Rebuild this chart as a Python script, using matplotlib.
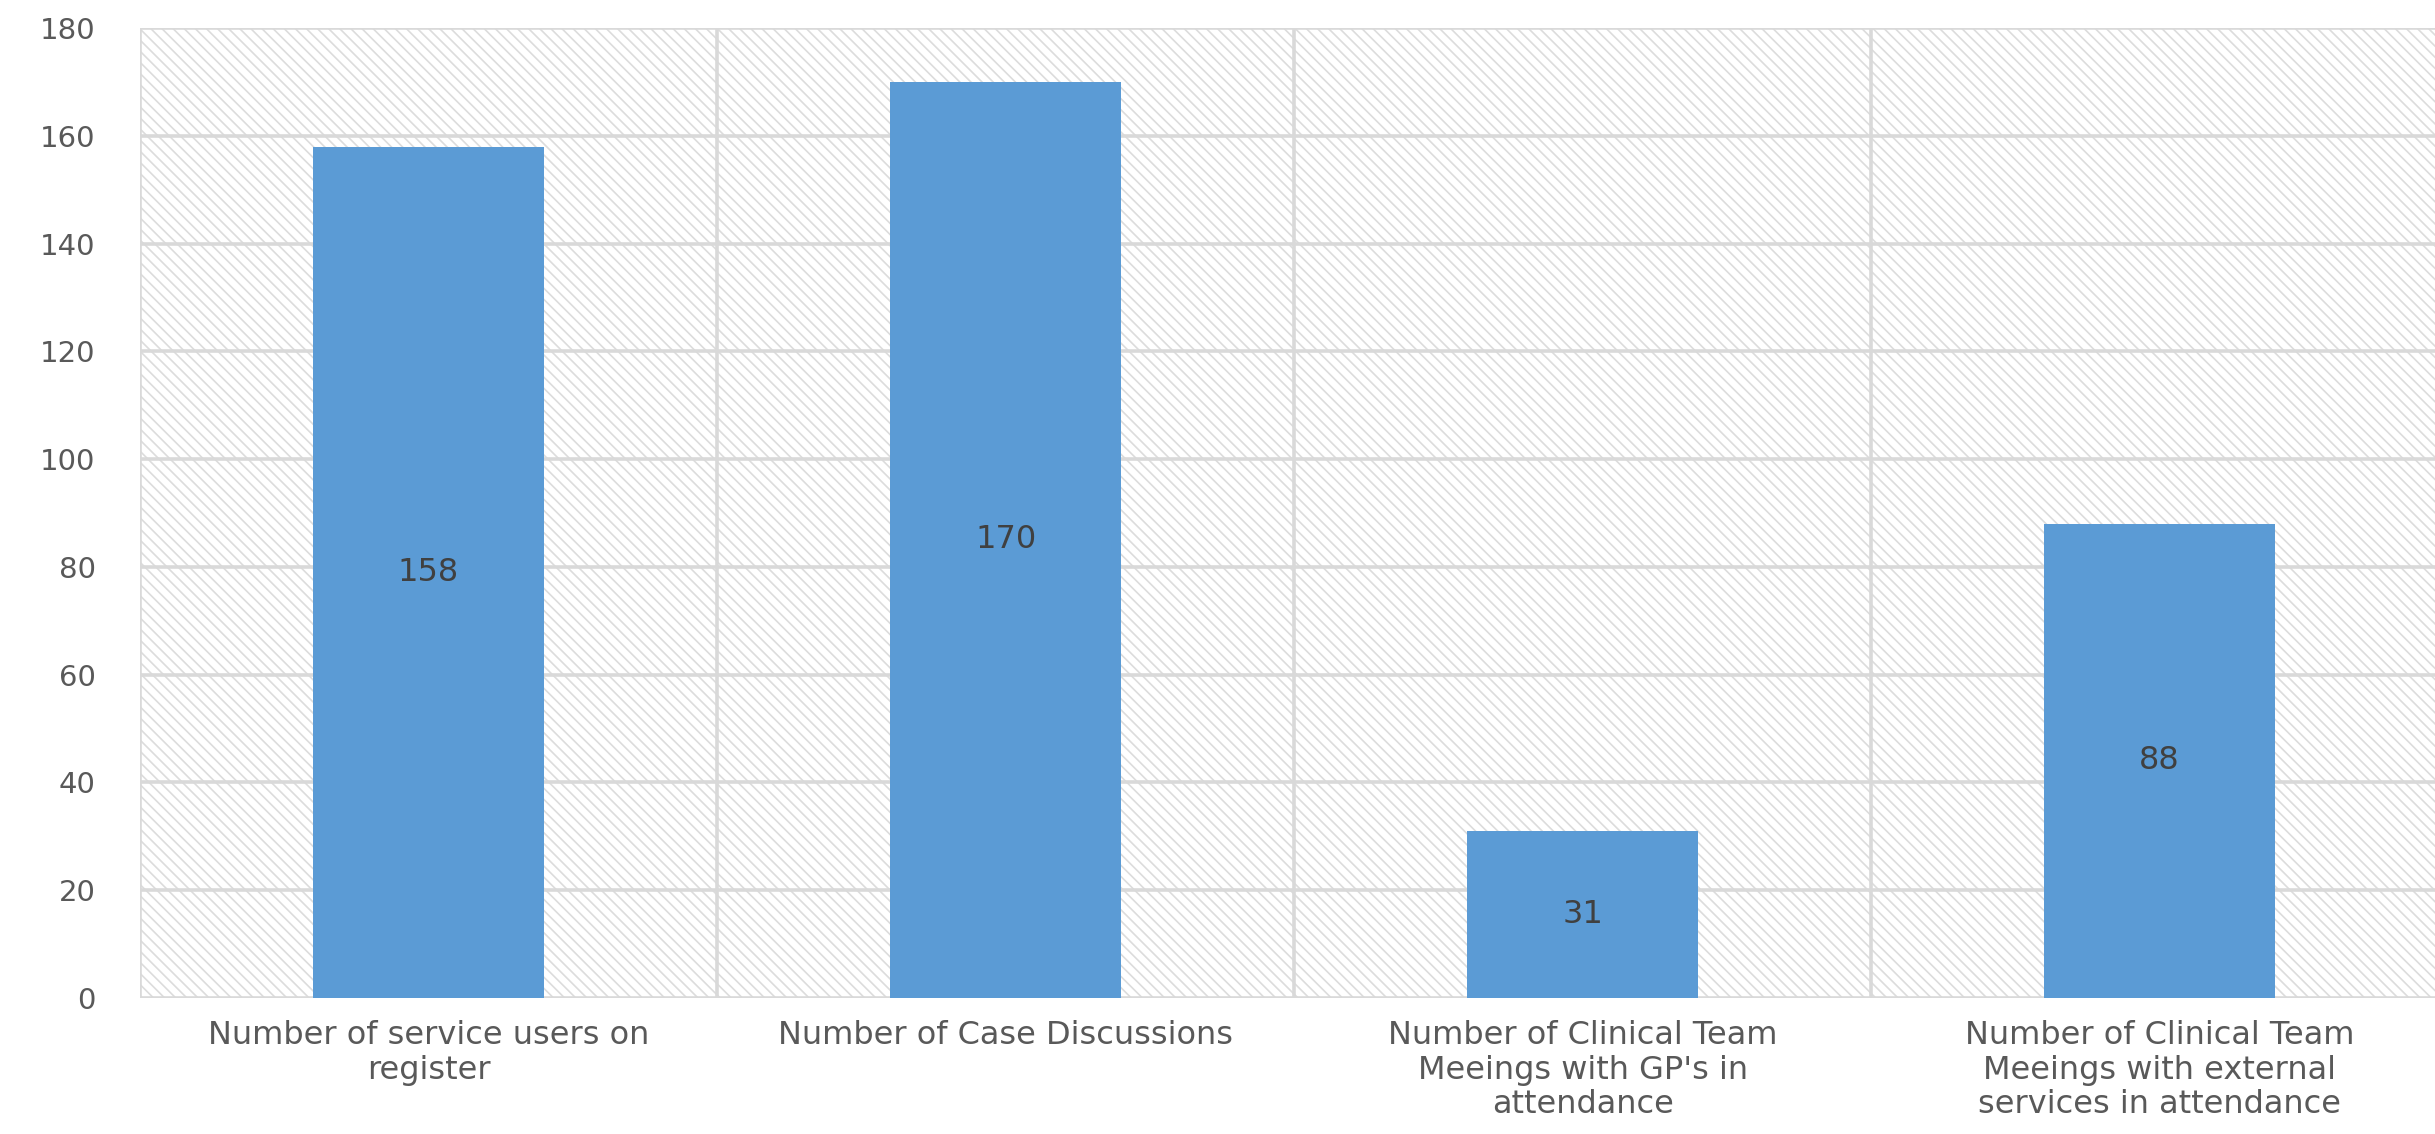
import matplotlib
matplotlib.use("Agg")
import matplotlib.pyplot as plt
from matplotlib.patches import Rectangle
import numpy as np

categories = [
    "Number of service users on\nregister",
    "Number of Case Discussions",
    "Number of Clinical Team\nMeeings with GP's in\nattendance",
    "Number of Clinical Team\nMeeings with external\nservices in attendance",
]
values = [158, 170, 31, 88]
yticks = [0, 20, 40, 60, 80, 100, 120, 140, 160, 180]

plt.rcParams['hatch.color'] = '#dcdcdc'
plt.rcParams['hatch.linewidth'] = 1.2

fig = plt.figure(figsize=(24.35, 11.34), dpi=100)
ax = fig.add_axes([140/2435, 1 - 998/1134, (2435-140)/2435, (998-28)/1134])

x = np.arange(len(categories))
ax.set_xlim(-0.5, 3.477)
ax.set_ylim(0, 180)

# hatched background
bg = Rectangle((0, 0), 1, 1, transform=ax.transAxes, facecolor='white',
               edgecolor='#dcdcdc', hatch='\\\\\\', linewidth=0, zorder=0)
ax.add_patch(bg)

grid_c = '#d9d9d9'
for yt in yticks:
    ax.axhline(yt, color=grid_c, lw=2.6, zorder=1)
for b in np.arange(len(categories)) - 0.5:
    ax.axvline(b, color=grid_c, lw=2.6, zorder=1)

bars = ax.bar(x, values, width=0.4, color='#5B9BD5', zorder=3)
for xi, v in zip(x, values):
    ax.text(xi, v / 2, str(v), ha='center', va='center', fontsize=23,
            color='#404040', zorder=4)

for s in ax.spines.values():
    s.set_visible(False)

ax.set_yticks(yticks)
ax.set_yticklabels([str(t) for t in yticks], fontsize=21, color='#595959')
ax.set_xticks(x)
ax.set_xticklabels(categories, fontsize=23, color='#595959', linespacing=1.15)
ax.tick_params(axis='y', length=0, pad=32)
ax.tick_params(axis='x', length=0, pad=16)

fig.savefig("out.png", dpi=100)
